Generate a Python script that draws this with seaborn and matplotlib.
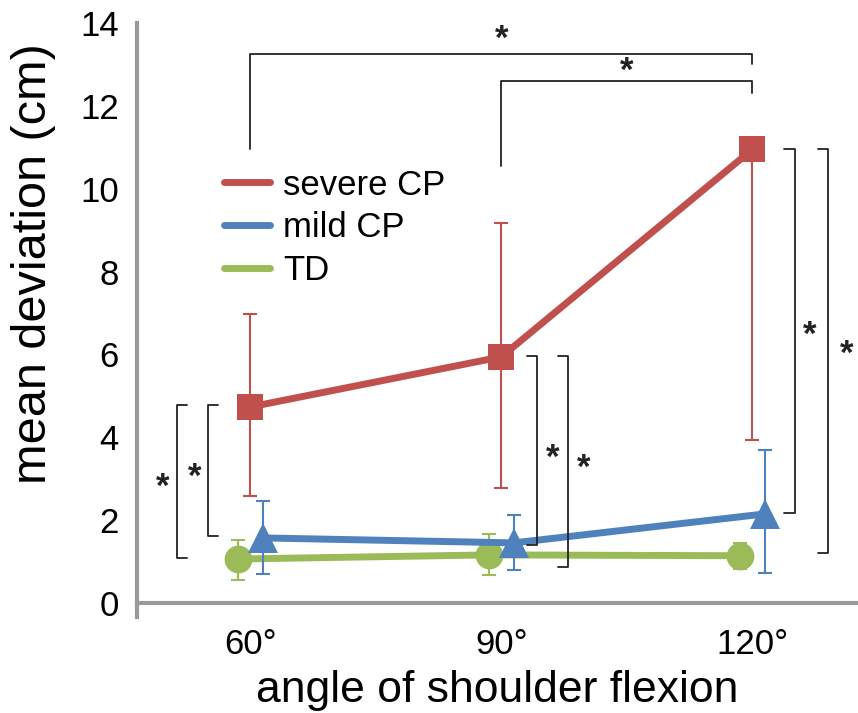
import matplotlib
matplotlib.use('Agg')
import matplotlib.pyplot as plt
from matplotlib.lines import Line2D
import seaborn as sns
import pandas as pd

# data
angles = ['60°', '90°', '120°']
groups = ['severe CP', 'mild CP', 'TD']

severe_mean = [4.73, 5.94, 10.95]
severe_hi = [6.98, 9.18, 10.95]
severe_lo = [2.58, 2.78, 3.93]

mild_mean = [1.57, 1.45, 2.15]
mild_hi = [2.46, 2.12, 3.69]
mild_lo = [0.70, 0.80, 0.72]

td_mean = [1.06, 1.16, 1.14]
td_hi = [1.52, 1.67, 1.45]
td_lo = [0.56, 0.68, 0.82]

# style
colors = {'severe CP': '#C0504D', 'mild CP': '#4F81BD', 'TD': '#9BBB59'}
markers = {'severe CP': 's', 'mild CP': '^', 'TD': 'o'}
msizes = {'severe CP': 19, 'mild CP': 21, 'TD': 20}
offsets = {'severe CP': 0.0, 'mild CP': 0.05, 'TD': -0.05}
zorders = {'severe CP': 4, 'mild CP': 3, 'TD': 2}

rows = []
for g, m, hi, lo in [('severe CP', severe_mean, severe_hi, severe_lo),
                     ('mild CP', mild_mean, mild_hi, mild_lo),
                     ('TD', td_mean, td_hi, td_lo)]:
    for i, a in enumerate(angles):
        rows.append({'group': g, 'angle': a, 'idx': i, 'mean': m[i], 'hi': hi[i], 'lo': lo[i]})
df = pd.DataFrame(rows)
df['pos'] = df['idx'] + df['group'].map(offsets)

sns.set_style('white')
plt.rcParams['font.family'] = ['Liberation Sans', 'DejaVu Sans']
plt.rcParams['text.color'] = 'black'
plt.rcParams['axes.labelcolor'] = 'black'
plt.rcParams['xtick.labelcolor'] = 'black'
plt.rcParams['ytick.labelcolor'] = 'black'

fig = plt.figure(figsize=(8.58, 7.13), dpi=100)
ax = fig.add_axes([0.1597, 0.134, 0.8403, 0.8338])

for g in ['TD', 'mild CP', 'severe CP']:
    sub = df[df['group'] == g]
    ax.errorbar(sub['pos'], sub['mean'],
                yerr=[sub['mean'] - sub['lo'], sub['hi'] - sub['mean']],
                fmt='none', ecolor=colors[g], elinewidth=1.5, capsize=5,
                capthick=1.5, zorder=zorders[g] - 0.5)
    sns.lineplot(data=sub, x='pos', y='mean', ax=ax, color=colors[g],
                 marker=markers[g], markersize=msizes[g], markeredgewidth=0,
                 linewidth=5, legend=False, zorder=zorders[g])

ax.set_xlim(-0.45, 2.42)
ax.set_ylim(-0.35, 14)
ax.set_xticks(range(len(angles)))
ax.set_xticklabels(angles)
ax.set_yticks(range(0, 15, 2))
ax.tick_params(axis='y', length=12, width=3, color='#999999', labelsize=25,
               pad=1, labelcolor='black')
ax.tick_params(axis='x', length=0, pad=18, labelsize=25, labelcolor='black')

for s in ['top', 'right']:
    ax.spines[s].set_visible(False)
ax.spines['bottom'].set_position(('data', 0))
for s in ['left', 'bottom']:
    ax.spines[s].set_color('#999999')
    ax.spines[s].set_linewidth(3)

ax.set_xlabel('angle of shoulder flexion', fontsize=32, color='black')
ax.set_ylabel('mean deviation (cm)', fontsize=35, color='black')
ax.xaxis.set_label_coords(0.5, -0.088)
ax.yaxis.set_label_coords(-0.112, 0.595)

# significance brackets
br = dict(color='#222222', lw=1.3, zorder=5, clip_on=False)
star = dict(fontsize=25, fontweight='bold', ha='center', va='center', color='#222222')
sdy = -0.12

# top brackets: (x_left, x_right, y_bar, y_left_end, y_right_end, star_x, star_y)
for xl, xr, yb, yle, yre, sx, sy in [(0.0, 2.0, 13.26, 10.96, 13.01, 1.0, 13.72),
                                     (1.0, 2.0, 12.60, 10.55, 12.31, 1.5, 12.95)]:
    ax.plot([xl, xl, xr, xr], [yle, yb, yb, yre], **br)
    ax.text(sx, sy + sdy, '*', **star)

# side brackets: (x_spine, arm_dx, y_top, y_bottom, star_x, star_y)
for xs, dx, yt, yb, sx, sy in [(-0.292, 0.04, 4.78, 1.09, -0.347, 2.90),
                               (-0.167, 0.04, 4.78, 1.62, -0.219, 3.16),
                               (1.143, -0.04, 5.96, 1.40, 1.203, 3.62),
                               (1.267, -0.04, 5.96, 0.87, 1.327, 3.38),
                               (2.171, -0.044, 10.96, 2.17, 2.227, 6.59),
                               (2.299, -0.04, 10.96, 1.21, 2.375, 6.11)]:
    ax.plot([xs + dx, xs, xs, xs + dx], [yt, yt, yb, yb], **br)
    ax.text(sx, sy + sdy, '*', **star)

handles = [Line2D([0], [0], color=colors[g], lw=5, solid_capstyle='round') for g in groups]
ax.legend(handles, groups, loc='upper left', bbox_to_anchor=(0.12, 0.755),
          frameon=False, fontsize=25, handlelength=1.35, handletextpad=0.36,
          labelspacing=0.28, borderpad=0, borderaxespad=0)

fig.savefig('out.png', dpi=100)
